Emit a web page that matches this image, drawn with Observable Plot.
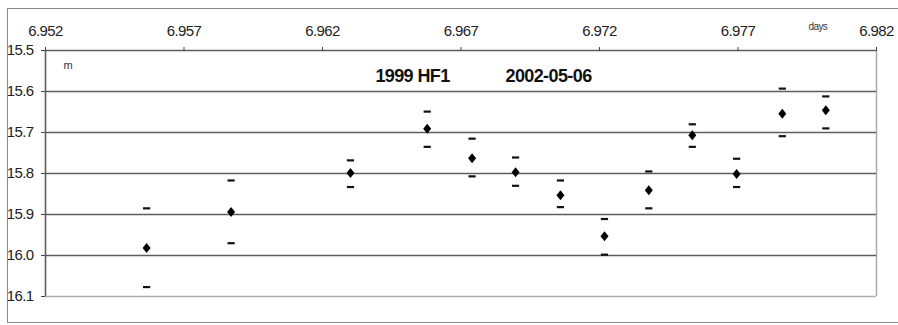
<!DOCTYPE html>
<html>
<head>
<meta charset="utf-8">
<script src="https://cdn.jsdelivr.net/npm/d3@7"></script>
<script src="https://cdn.jsdelivr.net/npm/@observablehq/plot@0.6"></script>
<style>
  body { margin: 0; background: #fff; }
  #wrap { position: relative; width: 898px; height: 325px; overflow: hidden; }
  #border { position: absolute; left: 7px; top: 8px; width: 900px; height: 313px; border: 1.5px solid #8a8a8a; border-right: none; }
  #chart { position: absolute; left: 0; top: 0; }
</style>
</head>
<body>
<div id="wrap"><div id="border"></div><div id="chart"></div></div>
<script>
// Observation times (days) and magnitudes
const times = [6.95565, 6.95870, 6.96301, 6.96578, 6.96740, 6.96897, 6.97059, 6.97218, 6.97378, 6.97535, 6.97695, 6.97860, 6.98017];
const mags  = [15.982, 15.894, 15.799, 15.691, 15.763, 15.797, 15.853, 15.953, 15.841, 15.707, 15.801, 15.654, 15.646];
const magTop = [15.885, 15.817, 15.768, 15.649, 15.715, 15.761, 15.817, 15.911, 15.795, 15.680, 15.764, 15.593, 15.612];
const magBottom = [16.077, 15.970, 15.833, 15.735, 15.807, 15.830, 15.882, 15.998, 15.885, 15.735, 15.833, 15.709, 15.690];

const xTicks = [6.952, 6.957, 6.962, 6.967, 6.972, 6.977, 6.982];
const yTicks = [15.5, 15.6, 15.7, 15.8, 15.9, 16.0, 16.1];
const gridDark = [15.5, 15.6, 15.7, 15.8, 15.9, 16.0];
const gridLight = [16.1];

const objectName = "1999 HF1";
const dateLabel = "2002-05-06";
const yUnit = "m";
const xUnit = "days";

const data = times.map((t, i) => ({t, m: mags[i], top: magTop[i], bottom: magBottom[i]}));

const dash = { draw(ctx) { ctx.rect(-3.6, -1.1, 7.2, 2.2); } };
const diamond = { draw(ctx) { ctx.moveTo(0, -5); ctx.lineTo(4, 0); ctx.lineTo(0, 5); ctx.lineTo(-4, 0); ctx.closePath(); } };

const font = "'Liberation Sans Narrow', 'Liberation Sans', Arial, sans-serif";

const chart = Plot.plot({
  width: 898,
  height: 325,
  marginLeft: 45,
  marginRight: 22,
  marginTop: 50,
  marginBottom: 29,
  style: { fontFamily: font, fontSize: "15px", color: "#222", background: "transparent", letterSpacing: "-0.6px" },
  x: { domain: [6.952, 6.982], axis: null },
  y: { domain: [15.5, 16.1], reverse: true, axis: null },
  marks: [
    Plot.ruleY(gridLight, { stroke: "#aaaaaa", strokeWidth: 1.5 }),
    Plot.ruleX([6.982], { stroke: "#aaaaaa", strokeWidth: 1.5 }),
    Plot.ruleY(gridDark, { stroke: "#5e5e5e", strokeWidth: 1.6 }),
    Plot.ruleX([6.952], { stroke: "#5e5e5e", strokeWidth: 1.6 }),
    Plot.axisX({ anchor: "top", ticks: xTicks, tickFormat: d => d.toFixed(3), tickSize: 4, tickPadding: 11, label: null, fontSize: 15, stroke: "#444" }),
    Plot.axisY({ anchor: "left", ticks: yTicks, tickFormat: d => d.toFixed(1), tickSize: 4, tickPadding: 8, label: null, fontSize: 15, stroke: "#444" }),
    Plot.dot(data, { x: "t", y: "top", symbol: dash, fill: "#111", stroke: "none", r: 4 }),
    Plot.dot(data, { x: "t", y: "bottom", symbol: dash, fill: "#111", stroke: "none", r: 4 }),
    Plot.dot(data, { x: "t", y: "m", symbol: diamond, fill: "#000", stroke: "none", r: 4 }),
    Plot.text([objectName], { frameAnchor: "top-left", dx: 367, dy: 26, lineAnchor: "middle", text: d => d, fontFamily: "'Liberation Sans', Arial, sans-serif", fontWeight: "bold", fontSize: 18, textAnchor: "middle", fill: "#111" }),
    Plot.text([dateLabel], { frameAnchor: "top-left", dx: 503, dy: 26, lineAnchor: "middle", text: d => d, fontFamily: "'Liberation Sans', Arial, sans-serif", fontWeight: "bold", fontSize: 18, textAnchor: "middle", fill: "#111" }),
    Plot.text([yUnit], { frameAnchor: "top-left", dx: 18, dy: 15, lineAnchor: "middle", text: d => d, fontSize: 11, fill: "#333" }),
    Plot.text([xUnit], { frameAnchor: "top-left", dx: 763, dy: -24, lineAnchor: "middle", text: d => d, fontSize: 10, fill: "#333" })
  ]
});
document.getElementById("chart").appendChild(chart);
</script>
</body>
</html>
